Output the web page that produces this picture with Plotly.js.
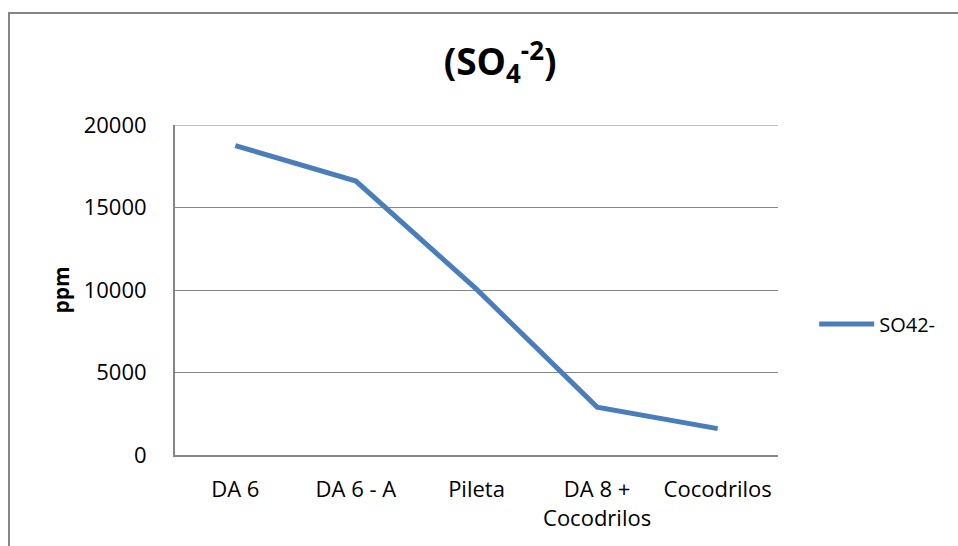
<!DOCTYPE html>
<html>
<head>
<meta charset="utf-8">
<script src="https://cdn.plot.ly/plotly-3.0.1.min.js"></script>
<style>
  html, body { margin: 0; padding: 0; background: #fff; }
  #wrap { position: relative; width: 958px; height: 546px; overflow: hidden; }
  #chart { position: absolute; left: 0; top: 0; width: 958px; height: 546px; }
  #frame { position: absolute; left: 8px; top: 12px; width: 960px; height: 560px;
           border-left: 2px solid #868686; border-top: 2px solid #868686; pointer-events: none; }
</style>
</head>
<body>
<div id="wrap">
  <div id="chart"></div>
  <div id="frame"></div>
</div>
<script>
const categories = ["DA 6", "DA 6 - A", "Pileta", "DA 8 +<br>Cocodrilos", "Cocodrilos"];
const so4Values = [18750, 16600, 10050, 2900, 1600];
const seriesName = "SO42-";
const yTicks = [0, 5000, 10000, 15000, 20000];

const FONT = "Open Sans, Noto Sans, Liberation Sans, sans-serif";
const TICK_SIZE = 22;

const trace = {
  x: categories,
  y: so4Values,
  type: "scatter",
  mode: "lines",
  name: seriesName,
  line: { color: "#4A7EBB", width: 5 },
  hoverinfo: "skip"
};

const layout = {
  width: 958,
  height: 546,
  margin: { l: 175, r: 180, t: 125, b: 91 },
  paper_bgcolor: "#ffffff",
  plot_bgcolor: "#ffffff",
  font: { family: FONT, size: TICK_SIZE, color: "#000000" },
  title: {
    text: "<b>(SO<sub>4</sub><sup>-2</sup>)</b>",
    font: { family: FONT, size: 37, color: "#000000" },
    x: 0.522,
    xref: "container",
    xanchor: "center",
    y: 72,
    yref: "container",
    yanchor: "middle"
  },
  xaxis: {
    type: "category",
    range: [-0.5, categories.length - 0.5],
    showgrid: false,
    showline: true,
    linecolor: "#868686",
    linewidth: 2,
    ticks: "",
    zeroline: false,
    ticklabelstandoff: 14,
    tickfont: { family: FONT, size: TICK_SIZE, color: "#000000" },
    fixedrange: true
  },
  yaxis: {
    range: [0, 20000],
    tickvals: yTicks,
    ticktext: yTicks.map(String),
    showgrid: true,
    gridcolor: "#868686",
    gridwidth: 1,
    showline: true,
    linecolor: "#868686",
    linewidth: 2,
    zeroline: false,
    ticks: "",
    ticklabelstandoff: 22,
    tickfont: { family: FONT, size: TICK_SIZE, color: "#000000" },
    title: { text: "<b>ppm</b>", font: { family: FONT, size: 21, color: "#000000" }, standoff: 8 },
    fixedrange: true
  },
  shapes: [{
    type: "line", xref: "paper", yref: "y",
    x0: 0, x1: 1, y0: yTicks[yTicks.length - 1], y1: yTicks[yTicks.length - 1],
    line: { color: "#868686", width: 1 }
  }],
  showlegend: true,
  legend: {
    x: 1.06,
    xanchor: "left",
    y: 0.397,
    yanchor: "middle",
    itemwidth: 55,
    font: { family: FONT, size: 20, color: "#000000" },
    bgcolor: "rgba(0,0,0,0)",
    borderwidth: 0
  }
};

Plotly.newPlot("chart", [trace], layout, { displayModeBar: false, staticPlot: true });
</script>
</body>
</html>
